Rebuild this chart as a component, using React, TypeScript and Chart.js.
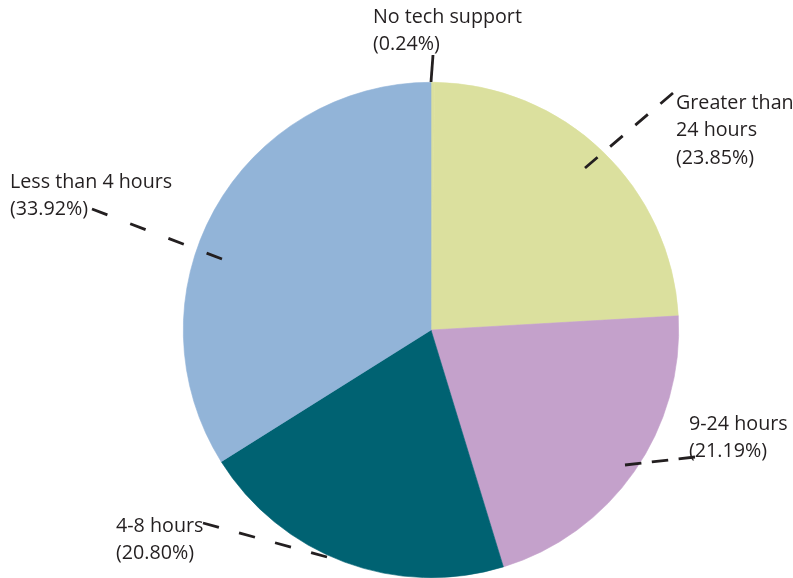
import React, { useEffect, useRef } from "react";
import { Chart, registerables } from "chart.js";

Chart.register(...registerables);

const categories = ["No tech support", "Greater than 24 hours", "9-24 hours", "4-8 hours", "Less than 4 hours"];
const values = [0.24, 23.85, 21.19, 20.8, 33.92];
const valueLabels = ["(0.24%)", "(23.85%)", "(21.19%)", "(20.80%)", "(33.92%)"];
const labelLines = [["No tech support"], ["Greater than", "24 hours"], ["9-24 hours"], ["4-8 hours"], ["Less than 4 hours"]];
const colors = ["#dbe09e", "#dbe09e", "#c4a1cb", "#006272", "#92b4d8"];

const labelLayout = [
  { x: 373, y: 17, from: [433, 55], to: [431, 82], dashed: false },
  { x: 676, y: 103, from: [673, 93], to: [585, 168], dashed: true },
  { x: 689, y: 424, from: [695, 457], to: [625, 465], dashed: true },
  { x: 116, y: 526, from: [203, 523], to: [327, 557], dashed: true },
  { x: 10, y: 182, from: [92, 209], to: [222, 259], dashed: true },
];

const labelPlugin = {
  id: "pieLabels",
  afterDraw(chart: any) {
    const ctx = chart.ctx;
    ctx.save();
    ctx.font = '19.7px "Open Sans", sans-serif';
    ctx.fillStyle = "#231f20";
    ctx.textBaseline = "middle";
    ctx.textAlign = "left";
    labelLayout.forEach((l, i) => {
      const lines = [...labelLines[i], valueLabels[i]];
      lines.forEach((t, j) => ctx.fillText(t, l.x, l.y + j * 27.5));
      ctx.beginPath();
      ctx.strokeStyle = "#231f20";
      ctx.lineWidth = 2.8;
      if (l.dashed) {
        const dx = l.to[0] - l.from[0];
        const dy = l.to[1] - l.from[1];
        const L = Math.hypot(dx, dy);
        const dash = 16.5;
        const n = Math.max(2, Math.round((L + 19) / (dash + 19)));
        const gap = (L - n * dash) / (n - 1);
        ctx.setLineDash([dash, gap]);
      } else {
        ctx.setLineDash([]);
      }
      ctx.moveTo(l.from[0], l.from[1]);
      ctx.lineTo(l.to[0], l.to[1]);
      ctx.stroke();
    });
    ctx.restore();
  },
};

export default function App() {
  const ref = useRef<HTMLCanvasElement>(null);
  useEffect(() => {
    document.body.style.margin = "0";
    const chart = new Chart(ref.current!, {
      type: "pie",
      data: {
        labels: categories,
        datasets: [{ data: values, backgroundColor: colors, borderColor: colors, borderWidth: 0.6 }],
      },
      options: {
        animation: false,
        responsive: false,
        layout: { padding: { left: 183, right: 114, top: 82, bottom: 0 } },
        plugins: { legend: { display: false }, tooltip: { enabled: false } },
      },
      plugins: [labelPlugin],
    });
    return () => chart.destroy();
  }, []);
  return (
    <div style={{ position: "fixed", left: 0, top: 0, width: 793, height: 578, background: "#fff" }}>
      <canvas ref={ref} width={793} height={578} />
    </div>
  );
}
